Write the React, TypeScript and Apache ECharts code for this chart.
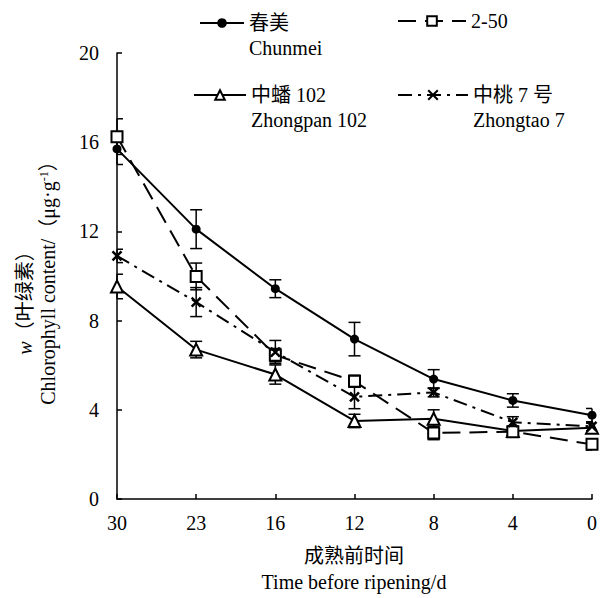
import React, { useEffect, useRef } from 'react';
import * as echarts from 'echarts';

const categories = ['30', '23', '16', '12', '8', '4', '0'];

const chunmei = [15.7, 12.1, 9.43, 7.17, 5.38, 4.42, 3.76];
const chunmeiErr = [0.7, 0.87, 0.4, 0.75, 0.42, 0.3, 0.3];

const line250 = [16.25, 9.98, 6.45, 5.28, 2.96, 3.02, 2.45];
const line250Err = [0.8, 0.6, 0.3, 0.27, 0.3, 0.2, 0.25];

const zhongpan = [9.53, 6.7, 5.58, 3.5, 3.6, 3.05, 3.2];
const zhongpanErr = [0.55, 0.37, 0.43, 0.3, 0.4, 0.2, 0.2];

const zhongtao = [10.9, 8.83, 6.59, 4.58, 4.78, 3.44, 3.26];
const zhongtaoErr = [0.3, 0.65, 0.52, 0.53, 0.2, 0.25, 0.2];

const names = ['春美\nChunmei', '2-50', '中蟠 102\nZhongpan 102', '中桃 7 号\nZhongtao 7'];

const FONT = '"Liberation Serif", "Times New Roman", "Noto Sans CJK SC", serif';

function errorSeries(vals: number[], errs: number[]) {
  return {
    type: 'custom',
    silent: true,
    z: 1,
    encode: { x: 0, y: 1 },
    data: vals.map((v, i) => [i, v, errs[i]]),
    renderItem: (params: any, api: any) => {
      const i = api.value(0);
      const v = api.value(1);
      const e = api.value(2);
      const hi = api.coord([i, v + e]);
      const lo = api.coord([i, v - e]);
      const w = 6;
      const cs = params.coordSys;
      const xl = Math.max(hi[0] - w, cs.x);
      const xr = Math.min(hi[0] + w, cs.x + cs.width);
      const style = { stroke: '#000', lineWidth: 1.5, fill: null };
      return {
        type: 'group',
        children: [
          { type: 'line', shape: { x1: hi[0], y1: hi[1], x2: lo[0], y2: lo[1] }, style },
          { type: 'line', shape: { x1: xl, y1: hi[1], x2: xr, y2: hi[1] }, style },
          { type: 'line', shape: { x1: xl, y1: lo[1], x2: xr, y2: lo[1] }, style },
        ],
      };
    },
  };
}

const legendBase = {
  orient: 'horizontal',
  itemHeight: 12,
  itemGap: 0,
  padding: 0,
  selectedMode: false,
  textStyle: { fontFamily: FONT, fontSize: 20, color: '#000', lineHeight: 25 },
};
const twoLine = { formatter: (name: string) => ' \n' + name };

export default function App() {
  const ref = useRef<HTMLDivElement>(null);
  useEffect(() => {
    document.body.style.margin = '0';
    const chart = echarts.init(ref.current!, null, { renderer: 'svg' });
    const option: any = {
      animation: false,
      backgroundColor: '#fff',
      textStyle: { fontFamily: FONT },
      grid: { left: 117, right: 10, top: 53, bottom: 99, containLabel: false },
      legend: [
        { ...legendBase, ...twoLine, left: 199, top: 23 - 37.5, itemWidth: 44, data: [names[0]] },
        { ...legendBase, left: 397, top: 21 - 12.5, itemWidth: 68, data: [names[1]] },
        { ...legendBase, ...twoLine, left: 193, top: 95 - 37.5, itemWidth: 52, data: [names[2]] },
        { ...legendBase, ...twoLine, left: 397, top: 95 - 37.5, itemWidth: 70, data: [names[3]] },
      ],
      xAxis: {
        type: 'category',
        data: categories,
        boundaryGap: false,
        axisLine: { lineStyle: { color: '#000', width: 1.5 } },
        axisTick: { inside: true, length: 5, lineStyle: { color: '#000', width: 1.5 } },
        axisLabel: { margin: 14, fontSize: 20, color: '#000', fontFamily: FONT },
        splitLine: { show: false },
      },
      yAxis: {
        type: 'value',
        min: 0,
        max: 20,
        interval: 4,
        axisLine: { show: true, lineStyle: { color: '#000', width: 1.5 } },
        axisTick: { show: true, inside: true, length: 5, lineStyle: { color: '#000', width: 1.5 } },
        axisLabel: { margin: 18, fontSize: 20, color: '#000', fontFamily: FONT },
        splitLine: { show: false },
      },
      graphic: [
        {
          type: 'text',
          x: 25,
          y: 298,
          rotation: Math.PI / 2,
          style: {
            text: '{i|w}（叶绿素）',
            fontFamily: FONT,
            fontSize: 20,
            fill: '#000',
            align: 'center',
            verticalAlign: 'middle',
            rich: {
              i: { fontStyle: 'italic', fontFamily: FONT, fontSize: 20, fill: '#000' },
            },
          },
        },
        {
          type: 'text',
          x: 48,
          y: 278,
          rotation: Math.PI / 2,
          style: {
            text: 'Chlorophyll content/（μg·g{s|-1}）',
            fontFamily: FONT,
            fontSize: 20,
            fill: '#000',
            align: 'center',
            verticalAlign: 'middle',
            rich: {
              s: { fontFamily: FONT, fontSize: 12, fill: '#000', verticalAlign: 'top' },
            },
          },
        },
        {
          type: 'text',
          x: 354,
          y: 556,
          style: {
            text: '成熟前时间',
            fontFamily: FONT,
            fontSize: 20,
            fill: '#000',
            align: 'center',
            verticalAlign: 'middle',
          },
        },
        {
          type: 'text',
          x: 354,
          y: 582,
          style: {
            text: 'Time before ripening/d',
            fontFamily: FONT,
            fontSize: 20,
            fill: '#000',
            align: 'center',
            verticalAlign: 'middle',
          },
        },
      ],
      series: [
        errorSeries(chunmei, chunmeiErr),
        errorSeries(line250, line250Err),
        errorSeries(zhongpan, zhongpanErr),
        errorSeries(zhongtao, zhongtaoErr),
        {
          name: names[0],
          type: 'line',
          data: chunmei,
          z: 3,
          symbol: 'circle',
          symbolSize: 9,
          itemStyle: { color: '#000' },
          lineStyle: { color: '#000', width: 2 },
        },
        {
          name: names[1],
          type: 'line',
          data: line250,
          z: 4,
          symbol: 'rect',
          symbolSize: 11,
          itemStyle: { color: '#fff', borderColor: '#000', borderWidth: 2 },
          lineStyle: { color: '#000', width: 2, type: [18, 9] },
        },
        {
          name: names[2],
          type: 'line',
          data: zhongpan,
          z: 3,
          symbol: 'triangle',
          symbolSize: 12,
          itemStyle: { color: '#fff', borderColor: '#000', borderWidth: 2 },
          lineStyle: { color: '#000', width: 2 },
        },
        {
          name: names[3],
          type: 'line',
          data: zhongtao,
          z: 4,
          symbol: 'path://M0,0L10,10M10,0L0,10',
          symbolSize: 9,
          itemStyle: { color: '#000', borderColor: '#000', borderWidth: 2.5 },
          lineStyle: { color: '#000', width: 2, type: [14, 6, 3, 6] },
        },
      ],
    };
    chart.setOption(option);
    return () => chart.dispose();
  }, []);
  return <div ref={ref} style={{ width: 602, height: 598 }} />;
}
